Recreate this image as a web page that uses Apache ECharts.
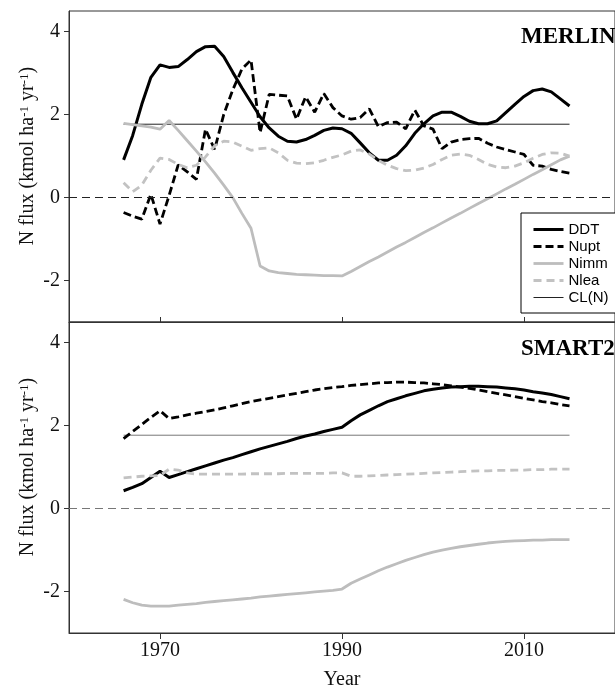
<!DOCTYPE html>
<html><head><meta charset="utf-8">
<script src="https://cdn.jsdelivr.net/npm/echarts@6/dist/echarts.min.js"></script>
<style>html,body{margin:0;padding:0;background:#fff}#c{width:615px;height:691px}</style>
</head><body><div id="c"></div>
<script>
const years = [1966,1967,1968,1969,1970,1971,1972,1973,1974,1975,1976,1977,1978,1979,1980,1981,1982,1983,1984,1985,1986,1987,1988,1989,1990,1991,1992,1993,1994,1995,1996,1997,1998,1999,2000,2001,2002,2003,2004,2005,2006,2007,2008,2009,2010,2011,2012,2013,2014,2015];

// MERLIN panel
const merlinDDT = [0.91,1.5,2.25,2.9,3.2,3.14,3.16,3.33,3.52,3.64,3.65,3.40,3.02,2.65,2.3,1.95,1.68,1.48,1.36,1.34,1.40,1.50,1.62,1.68,1.66,1.55,1.32,1.08,0.90,0.90,1.02,1.25,1.55,1.78,1.97,2.06,2.06,1.96,1.84,1.78,1.78,1.85,2.05,2.25,2.44,2.58,2.62,2.55,2.38,2.21];
const merlinNupt = [-0.36,-0.45,-0.52,0.08,-0.64,0.05,0.79,0.62,0.44,1.65,1.16,2.0,2.6,3.1,3.32,1.57,2.49,2.47,2.45,1.89,2.43,2.06,2.51,2.17,1.97,1.89,1.93,2.14,1.71,1.81,1.82,1.66,2.11,1.73,1.65,1.18,1.34,1.40,1.42,1.43,1.31,1.22,1.16,1.10,1.04,0.78,0.76,0.68,0.63,0.59];
const merlinNimm = [1.79,1.76,1.73,1.70,1.65,1.86,1.62,1.37,1.12,0.86,0.59,0.30,0.0,-0.38,-0.74,-1.65,-1.77,-1.81,-1.83,-1.85,-1.86,-1.87,-1.88,-1.88,-1.89,-1.78,-1.66,-1.54,-1.43,-1.31,-1.19,-1.08,-0.96,-0.84,-0.73,-0.61,-0.49,-0.38,-0.26,-0.14,-0.03,0.09,0.21,0.32,0.44,0.56,0.67,0.79,0.91,1.00];
const merlinNlea = [0.36,0.14,0.30,0.66,0.95,0.92,0.80,0.72,0.78,0.98,1.25,1.36,1.34,1.24,1.14,1.18,1.20,1.08,0.90,0.83,0.82,0.84,0.90,0.97,1.03,1.12,1.15,1.05,0.90,0.78,0.70,0.65,0.66,0.71,0.80,0.92,1.02,1.05,1.02,0.92,0.80,0.74,0.72,0.76,0.84,0.95,1.04,1.08,1.07,1.00];

// SMART2 panel
const smartDDT = [0.43,0.51,0.60,0.75,0.90,0.75,0.82,0.89,0.96,1.03,1.10,1.17,1.23,1.30,1.37,1.44,1.50,1.56,1.62,1.69,1.75,1.80,1.86,1.91,1.96,2.12,2.26,2.37,2.48,2.58,2.65,2.72,2.78,2.84,2.88,2.91,2.93,2.94,2.95,2.95,2.94,2.93,2.91,2.89,2.86,2.82,2.79,2.75,2.70,2.65];
const smartNupt = [1.69,1.86,2.03,2.20,2.36,2.17,2.21,2.26,2.30,2.34,2.38,2.43,2.48,2.53,2.58,2.62,2.66,2.70,2.74,2.78,2.82,2.86,2.89,2.92,2.94,2.97,2.99,3.01,3.03,3.04,3.05,3.05,3.04,3.03,3.01,2.99,2.96,2.93,2.90,2.86,2.82,2.78,2.74,2.70,2.66,2.62,2.58,2.55,2.51,2.48];
const smartNimm = [-2.19,-2.27,-2.33,-2.35,-2.35,-2.35,-2.33,-2.31,-2.29,-2.26,-2.24,-2.22,-2.20,-2.18,-2.16,-2.13,-2.11,-2.09,-2.07,-2.05,-2.03,-2.01,-1.99,-1.97,-1.94,-1.80,-1.70,-1.60,-1.50,-1.41,-1.33,-1.25,-1.18,-1.11,-1.05,-1.00,-0.96,-0.92,-0.89,-0.86,-0.83,-0.81,-0.79,-0.78,-0.77,-0.76,-0.76,-0.75,-0.75,-0.75];
const smartNlea = [0.74,0.76,0.78,0.79,0.80,0.95,0.93,0.86,0.83,0.83,0.83,0.83,0.83,0.83,0.84,0.84,0.84,0.84,0.85,0.85,0.85,0.85,0.85,0.86,0.86,0.78,0.78,0.79,0.80,0.81,0.82,0.83,0.84,0.85,0.86,0.87,0.88,0.89,0.90,0.91,0.91,0.92,0.92,0.93,0.93,0.94,0.94,0.95,0.95,0.95];

const clValue = 1.77;
const clYears = [1966, 2015];
const xTicks = [1970, 1990, 2010];
const yTicks = [-2, 0, 2, 4];
const seriesNames = ['DDT', 'Nupt', 'Nimm', 'Nlea', 'CL(N)'];

function pairs(v) { return years.map((y, i) => [y, v[i]]); }

const SERIF = 'Liberation Serif';
const styles = {
  'DDT': { color: '#000', width: 3, type: 'solid' },
  'Nupt': { color: '#000', width: 2.8, type: [8, 4] },
  'Nimm': { color: '#bdbdbd', width: 2.8, type: 'solid' },
  'Nlea': { color: '#c2c2c2', width: 2.8, type: [8, 5] },
  'CL(N)': { color: '#222', width: 1, type: 'solid' }
};

function panelSeries(idx, vals, zeroColor, clColor) {
  const out = [];
  seriesNames.forEach((n, k) => {
    const st = Object.assign({}, styles[n]);
    let data;
    if (n === 'CL(N)') {
      st.color = clColor;
      data = clYears.map(y => [y, clValue]);
    } else {
      data = pairs(vals[k]);
    }
    const s = {
      name: n, type: 'line', xAxisIndex: idx, yAxisIndex: idx,
      data: data, symbol: 'none', showSymbol: false, smooth: false,
      lineStyle: st, itemStyle: { color: st.color }, silent: true,
      z: n === 'CL(N)' ? 1 : 3
    };
    if (n === 'CL(N)') {
      s.markLine = {
        silent: true, symbol: 'none', label: { show: false },
        lineStyle: { type: [8, 5], color: zeroColor, width: 1 },
        data: [{ yAxis: 0 }]
      };
    }
    out.push(s);
  });
  return out;
}

function yAxis(idx) {
  return {
    gridIndex: idx, type: 'value', min: -3, max: 4.5,
    splitLine: { show: false },
    axisLine: { show: true, onZero: false, lineStyle: { color: '#333', width: 1 } },
    axisTick: { show: true, length: 5, customValues: yTicks, lineStyle: { color: '#333' } },
    axisLabel: { customValues: yTicks, fontFamily: SERIF, fontSize: 20, color: '#111', margin: 9, formatter: v => String(v) }
  };
}

const chart = echarts.init(document.getElementById('c'), null, { renderer: 'canvas' });
chart.setOption({
  animation: false,
  backgroundColor: '#fff',
  grid: [
    { left: 69, top: 11, width: 554, height: 311, show: true, borderColor: '#333', borderWidth: 1, backgroundColor: 'transparent' },
    { left: 69, top: 322, width: 554, height: 312, show: true, borderColor: '#333', borderWidth: 1, backgroundColor: 'transparent' }
  ],
  xAxis: [
    {
      gridIndex: 0, type: 'value', min: 1960, max: 2020,
      splitLine: { show: false },
      axisLine: { show: true, onZero: false, lineStyle: { color: '#333' } },
      axisTick: { show: true, inside: true, length: 5, customValues: xTicks, lineStyle: { color: '#333' } },
      axisLabel: { show: false }
    },
    {
      gridIndex: 1, type: 'value', min: 1960, max: 2020,
      splitLine: { show: false },
      axisLine: { show: true, onZero: false, lineStyle: { color: '#333' } },
      axisTick: { show: true, length: 6, customValues: xTicks, lineStyle: { color: '#333' } },
      axisLabel: { customValues: xTicks, fontFamily: SERIF, fontSize: 20, color: '#111', margin: 8, formatter: v => String(v) },
      name: 'Year', nameLocation: 'middle', nameGap: 37,
      nameTextStyle: { fontFamily: SERIF, fontSize: 20, color: '#111' }
    }
  ],
  yAxis: [yAxis(0), yAxis(1)],
  legend: {
    left: 521, top: 213, orient: 'vertical',
    padding: [9, 60, 8, 11],
    itemWidth: 30, itemHeight: 14, itemGap: 2,
    borderColor: '#000', borderWidth: 1, backgroundColor: '#fff',
    selectedMode: false,
    itemStyle: { opacity: 0 },
    lineStyle: { width: 'inherit' },
    textStyle: { fontFamily: 'Liberation Sans', fontSize: 15, color: '#000' },
    data: seriesNames
  },
  graphic: [
    {
      type: 'text', x: 28, y: 156, rotation: Math.PI / 2,
      style: {
        text: '{m|N flux (kmol ha}{s|-1}{m| yr}{s|-1}{m|)}',
        rich: {
          m: { fontFamily: SERIF, fontSize: 20, fill: '#111' },
          s: { fontFamily: SERIF, fontSize: 13, fill: '#111', verticalAlign: 'top' }
        },
        align: 'center', verticalAlign: 'middle'
      }
    },
    {
      type: 'text', x: 28, y: 467, rotation: Math.PI / 2,
      style: {
        text: '{m|N flux (kmol ha}{s|-1}{m| yr}{s|-1}{m|)}',
        rich: {
          m: { fontFamily: SERIF, fontSize: 20, fill: '#111' },
          s: { fontFamily: SERIF, fontSize: 13, fill: '#111', verticalAlign: 'top' }
        },
        align: 'center', verticalAlign: 'middle'
      }
    },
    {
      type: 'text', x: 521, y: 37,
      style: { text: 'MERLIN', font: 'bold 23px "Liberation Serif"', fill: '#000', align: 'left', verticalAlign: 'middle' }
    },
    {
      type: 'text', x: 521, y: 349,
      style: { text: 'SMART2', font: 'bold 23px "Liberation Serif"', fill: '#000', align: 'left', verticalAlign: 'middle' }
    }
  ],
  series: [].concat(
    panelSeries(0, [merlinDDT, merlinNupt, merlinNimm, merlinNlea], '#222', '#222'),
    panelSeries(1, [smartDDT, smartNupt, smartNimm, smartNlea], '#777', '#777')
  )
});
</script>
</body></html>
